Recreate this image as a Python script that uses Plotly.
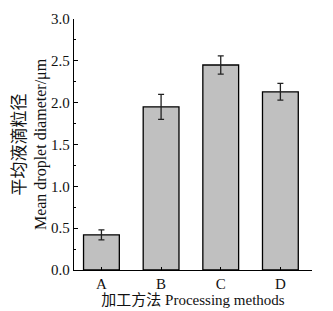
import plotly.graph_objects as go

categories = ["A", "B", "C", "D"]
values = [0.42, 1.95, 2.45, 2.13]
errors = [0.06, 0.15, 0.11, 0.10]
y_ticks = [0.0, 0.5, 1.0, 1.5, 2.0, 2.5, 3.0]
y_tick_labels = ["0.0", "0.5", "1.0", "1.5", "2.0", "2.5", "3.0"]

font = "Liberation Serif"
title_font = "Liberation Serif, Noto Sans CJK SC"

fig = go.Figure()
fig.add_trace(go.Bar(
    x=categories, y=values,
    width=0.6,
    marker=dict(color="#c0c0c0", line=dict(color="#000000", width=1.3)),
    error_y=dict(type="data", array=errors, color="#222222", thickness=1.3, width=3),
))

# page body has an 8px margin; size the figure so the plot area lands where the reference has it
fig.update_layout(
    width=325, height=303,
    margin=dict(l=66, r=21, t=11, b=41),
    paper_bgcolor="white", plot_bgcolor="white",
    showlegend=False,
    font=dict(family=font, size=15, color="#111111"),
    xaxis=dict(
        range=[-0.46, 3.53], automargin=False,
        showline=True, linecolor="#000000", linewidth=1.3,
        ticks="inside", ticklen=3, tickcolor="#000000",
        tickfont=dict(family=font, size=15),
        title=dict(text="加工方法 Processing methods", font=dict(family=title_font, size=15), standoff=2),
        showgrid=False, zeroline=False,
    ),
    yaxis=dict(
        range=[0, 3.0], automargin=False,
        tickvals=y_ticks, ticktext=y_tick_labels,
        showline=True, linecolor="#000000", linewidth=1.3,
        ticks="inside", ticklen=4, tickcolor="#000000",
        minor=dict(ticks="inside", ticklen=2, dtick=0.25, tickcolor="#000000"),
        tickfont=dict(family=font, size=15),
        title=dict(text="<span style=\"font-size:17px\">平均液滴粒径</span><br>Mean droplet diameter/μm",
                   font=dict(family=title_font, size=16), standoff=0),
        showgrid=False, zeroline=False,
    ),
)

fig.write_html("out.html")
